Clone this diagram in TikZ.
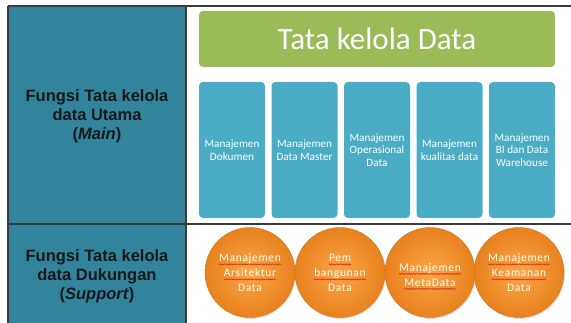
\documentclass[tikz,border=0pt]{standalone}
\usepackage{fontspec}
\setmainfont{Liberation Sans}
\newfontfamily\carl{Carlito}
\newfontfamily\carlsp[LetterSpace=6]{Carlito}
\usetikzlibrary{shadows,decorations.pathmorphing}
\definecolor{leftcol}{HTML}{31849B}
\definecolor{gridcol}{HTML}{3A3A3A}
\definecolor{greencol}{HTML}{9BBB59}
\definecolor{bluecol}{HTML}{4BACC6}
\definecolor{orangein}{HTML}{FBA646}
\definecolor{orangeout}{HTML}{E8821E}
\definecolor{wavered}{HTML}{E0201B}
\tikzset{
  gridline/.style={draw=gridcol, line width=1.4pt},
  lefttext/.style={align=center, text=black!90, font=\bfseries\fontsize{16.5}{19}\selectfont},
  titlebox/.style={fill=greencol, rounded corners=4pt, minimum width=356pt, minimum height=56pt,
    text=white, font=\carl\fontsize{31}{36}\selectfont, inner sep=0pt},
  mgmtbox/.style={fill=bluecol, rounded corners=4pt, minimum width=66pt, minimum height=136pt,
    text=white, align=center, font=\carl\fontsize{11.2}{12.8}\selectfont, inner sep=0pt},
  supportball/.style={circle, minimum size=90pt, inner sep=0pt, draw=orangeout!90!black, line width=0.4pt,
    inner color=orangein, outer color=orangeout,
    drop shadow={shadow xshift=1pt, shadow yshift=-1.5pt, opacity=0.25}},
  balltext/.style={anchor=base, inner sep=0pt, text=white, font=\carlsp\fontsize{11.5}{14}\selectfont},
  squig/.style={draw=wavered, line width=0.5pt, decorate,
    decoration={snake, amplitude=0.6pt, segment length=2.4pt}}
}
% one line of text inside a ball, with a red wavy underline
\newcommand\wline[3]{%
  \node[balltext] (#1) at (#2) {#3};
  \draw[squig] ([yshift=-2.4pt]#1.base west) -- ([yshift=-2.4pt]#1.base east);}
\begin{document}
\begin{tikzpicture}[x=1pt,y=-1pt]
\useasboundingbox (0,0) rectangle (571,323);
% left column
\fill[leftcol] (8,6) rectangle (186,323.5);
\draw[gridline] (8,6) -- (571,6);
\draw[gridline] (8,224) -- (571,224);
\draw[gridline] (8,6) -- (8,323.5);
\draw[gridline] (186,6) -- (186,323.5);
\node[lefttext] (mainlbl) at (97,116) {Fungsi Tata kelola\\data Utama\\(\textit{Main})};
\node[lefttext] (supplbl) at (97,276) {Fungsi Tata kelola\\data Dukungan\\(\textit{Support})};
% title
\node[titlebox] (title) at (377,39) {Tata kelola Data};
% main functions
\node[mgmtbox] (m1) at (232,150) {Manajemen\\Dokumen};
\node[mgmtbox] (m2) at (304.5,150) {Manajemen\\Data Master};
\node[mgmtbox] (m3) at (377,150) {Manajemen\\Operasional\\Data};
\node[mgmtbox] (m4) at (449.5,150) {Manajemen\\kualitas data};
\node[mgmtbox] (m5) at (522,150) {Manajemen\\BI dan Data\\Warehouse};
% support functions
\node[supportball] (s1) at (250,272.5) {};
\node[supportball] (s2) at (340,272.5) {};
\node[supportball] (s3) at (430,272.5) {};
\node[supportball] (s4) at (519,272.5) {};
\wline{s1a}{250,262}{Manajemen}
\wline{s1b}{250,277}{Arsitektur}
\node[balltext] (s1c) at (250,292) {Data};
\wline{s2a}{340,262}{Pem}
\wline{s2b}{340,277}{bangunan}
\node[balltext] (s2c) at (340,292) {Data};
\wline{s3a}{430,271.5}{Manajemen}
\wline{s3b}{430,286.5}{MetaData}
\wline{s4a}{519,262}{Manajemen}
\wline{s4b}{519,277}{Keamanan}
\node[balltext] (s4c) at (519,292) {Data};
\end{tikzpicture}
\end{document}
